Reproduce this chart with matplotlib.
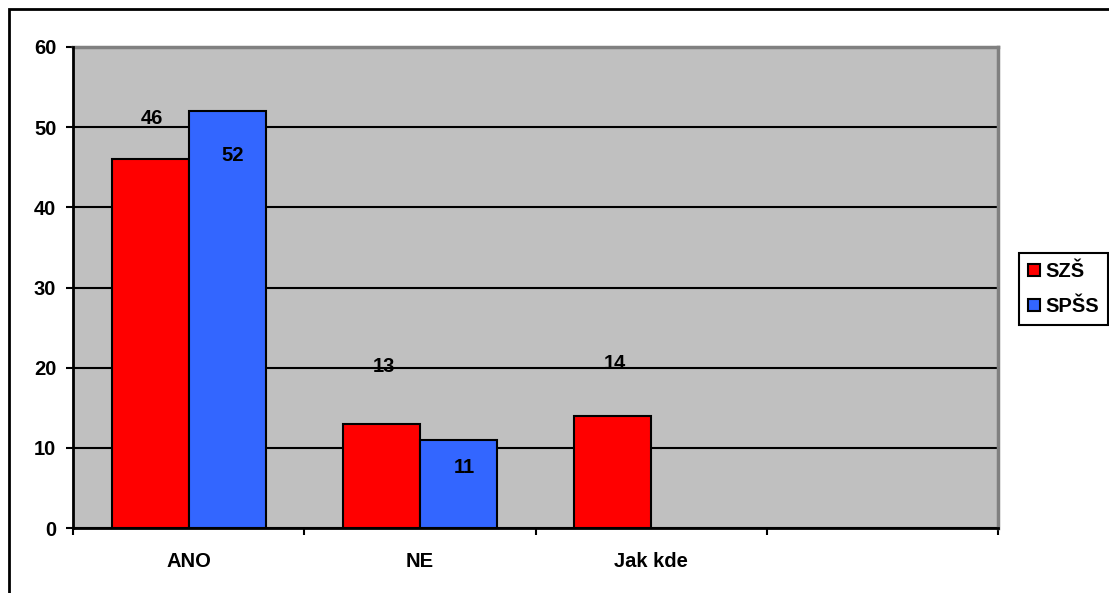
import numpy as np
import matplotlib
matplotlib.use("Agg")
import matplotlib.pyplot as plt
from matplotlib.patches import Rectangle

# data
categories = ["ANO", "NE", "Jak kde", ""]
szs = [46, 13, 14, np.nan]
spss = [52, 11, np.nan, np.nan]
series_names = ["SZŠ", "SPŠS"]

plt.rcParams['font.family'] = ['Liberation Sans', 'DejaVu Sans']
plt.rcParams['font.weight'] = 'bold'
fs = 14.5

W, H = 1109, 593
fig = plt.figure(figsize=(W / 100, H / 100), dpi=100)
ax = fig.add_axes([73 / W, (H - 528) / H, 925 / W, 481 / H])
ax.set_facecolor("#C0C0C0")

x = np.arange(len(categories)) + 0.5
bw = 1 / 3
b1 = ax.bar(x - bw / 2, szs, bw, color="#FF0000", edgecolor="black", linewidth=1.5, zorder=3, label=series_names[0])
b2 = ax.bar(x + bw / 2, spss, bw, color="#3366FF", edgecolor="black", linewidth=1.5, zorder=3, label=series_names[1])

# value labels (the original has them nudged: red above, blue inside)
red_off = [5.1, 7.2, 6.5]
blue_off = [-5.5, -3.4]
for i, v in enumerate(szs):
    if not np.isnan(v):
        ax.text(x[i] - bw / 2 + 0.01, v + red_off[i], str(int(v)), ha="center", va="center",
                fontsize=fs, fontweight="bold", zorder=4)
for i, v in enumerate(spss):
    if not np.isnan(v):
        ax.text(x[i] + bw / 2 + 0.025, v + blue_off[i], str(int(v)), ha="center", va="center",
                fontsize=fs, fontweight="bold", zorder=4)

ax.set_xlim(0, 4)
ax.set_ylim(0, 60)
ax.set_yticks(range(0, 61, 10))
ax.yaxis.grid(True, color="black", linewidth=1.5, zorder=1)
ax.set_axisbelow(True)

ax.set_xticks(x)
ax.set_xticklabels(categories, fontsize=fs, fontweight="bold")
ax.set_xticks(np.arange(0, 5), minor=True)
ax.tick_params(axis="x", which="major", length=0, pad=17)
ax.tick_params(axis="x", which="minor", length=5, width=1.5, direction="out")
ax.tick_params(axis="y", length=5, width=1.5, pad=7, labelsize=fs)
for lab in ax.get_yticklabels():
    lab.set_fontweight("bold")

ax.spines["left"].set_linewidth(2)
ax.spines["bottom"].set_linewidth(2)
ax.spines["top"].set_color("#808080")
ax.spines["top"].set_linewidth(2.5)
ax.spines["right"].set_color("#808080")
ax.spines["right"].set_linewidth(2.5)
ax.spines["top"].set_zorder(2)

leg = fig.legend(handles=[b1, b2], loc="upper left", bbox_to_anchor=(1019 / W, 1 - 253 / H),
                 frameon=True, fancybox=False, edgecolor="black", fontsize=fs,
                 handlelength=0.6, handleheight=0.6, handletextpad=0.25,
                 borderpad=0.45, labelspacing=0.8, borderaxespad=0, framealpha=1)
leg.get_frame().set_linewidth(1.5)
for t in leg.get_texts():
    t.set_fontweight("bold")

# outer chart border (right/bottom run off the picture)
fig.add_artist(Rectangle((9 / W, -0.2), 2, 1.2 - 9 / H, transform=fig.transFigure,
                         fill=False, edgecolor="black", linewidth=2, clip_on=False))

fig.savefig("out.png", dpi=100, facecolor="white")
